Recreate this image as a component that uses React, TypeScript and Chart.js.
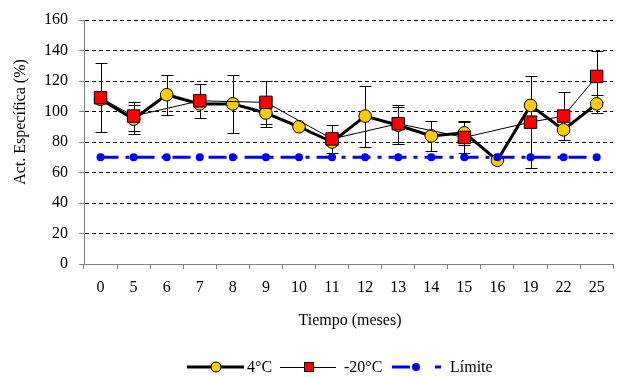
import React, { useEffect, useRef } from "react";
import { Chart, registerables } from "chart.js";

Chart.register(...registerables);

const labels = ["0", "5", "6", "7", "8", "9", "10", "11", "12", "13", "14", "15", "16", "19", "22", "25"];
const t4 = [108, 95, 111, 105, 105, 99, 90, 80, 97, 91, 84, 86, 68, 104, 88, 105];
const t4Err = [0, 9.5, 13, 0, 19, 9, 0, 0, 20, 12, 10, 8, 0, 0, 0, 6];
const t20 = [109, 97, null, 107, null, 106, null, 82, null, 92, null, 83, null, 93, 97, 123];
const t20Err = [22.5, 9.5, 0, 11, 0, 14, 0, 9, 0, 12, 0, 10, 0, 30, 16, 17];
const limite = [70, 70, 70, 70, 70, 70, 70, 70, 70, 70, 70, 70, 70, 70, 70, 70];

const yTicks = [0, 20, 40, 60, 80, 100, 120, 140, 160];
const seriesNames = ["4°C", "-20°C", "Límite"];
const yTitle = "Act. Específica (%)";
const xTitle = "Tiempo (meses)";

const FONT = "'Liberation Serif', 'Times New Roman', serif";
const YELLOW = "#FFCC00";
const RED = "#FF0000";
const BLUE = "#0000FF";

const errPlugin = {
  id: "errbars",
  beforeDatasetsDraw(chart: any) {
    const ctx = chart.ctx;
    const ys = chart.scales.y;
    const sets: [number, (number | null)[], number[]][] = [
      [0, t4, t4Err],
      [1, t20, t20Err],
    ];
    ctx.save();
    ctx.strokeStyle = "#000";
    ctx.lineWidth = 1;
    sets.forEach(([di, vals, errs]) => {
      const meta = chart.getDatasetMeta(di);
      meta.data.forEach((pt: any, i: number) => {
        const v = vals[i];
        const e = errs[i];
        if (v == null || !e) return;
        const x = Math.round(pt.x) + 0.5;
        const yTop = Math.round(ys.getPixelForValue(v + e)) + 0.5;
        const yBot = Math.round(ys.getPixelForValue(v - e)) + 0.5;
        ctx.beginPath();
        ctx.moveTo(x, yTop);
        ctx.lineTo(x, yBot);
        ctx.moveTo(x - 6, yTop);
        ctx.lineTo(x + 6, yTop);
        ctx.moveTo(x - 6, yBot);
        ctx.lineTo(x + 6, yBot);
        ctx.stroke();
      });
    });
    ctx.restore();
  },
};

const textPlugin = {
  id: "texts",
  afterDraw(chart: any) {
    const ctx = chart.ctx;
    ctx.save();
    ctx.fillStyle = "#000";
    ctx.font = `16px ${FONT}`;
    ctx.textBaseline = "middle";
    // y title
    ctx.save();
    ctx.translate(13, 114);
    ctx.rotate(-Math.PI / 2);
    ctx.textAlign = "center";
    ctx.fillText(yTitle, 0, 0);
    ctx.restore();
    // x title
    ctx.textAlign = "center";
    ctx.fillText(xTitle, 342, 313);

    // legend
    const ly = 359;
    ctx.textAlign = "left";
    // 4°C
    ctx.strokeStyle = "#000";
    ctx.lineWidth = 3;
    ctx.beginPath();
    ctx.moveTo(179, ly);
    ctx.lineTo(236, ly);
    ctx.stroke();
    ctx.beginPath();
    ctx.arc(208, ly, 5, 0, Math.PI * 2);
    ctx.fillStyle = YELLOW;
    ctx.fill();
    ctx.lineWidth = 1;
    ctx.stroke();
    ctx.fillStyle = "#000";
    ctx.fillText(seriesNames[0], 239, ly + 1);
    // -20°C
    ctx.lineWidth = 1;
    ctx.beginPath();
    ctx.moveTo(272, ly + 0.5);
    ctx.lineTo(328, ly + 0.5);
    ctx.stroke();
    ctx.fillStyle = RED;
    ctx.fillRect(296, ly - 4.5, 9, 9);
    ctx.strokeRect(296.5, ly - 4.5, 9, 9);
    ctx.fillStyle = "#000";
    ctx.fillText(seriesNames[1], 336, ly + 1);
    // Límite
    ctx.strokeStyle = BLUE;
    ctx.lineWidth = 3;
    ctx.beginPath();
    ctx.moveTo(384, ly);
    ctx.lineTo(402, ly);
    ctx.moveTo(427, ly);
    ctx.lineTo(433, ly);
    ctx.stroke();
    ctx.beginPath();
    ctx.arc(408, ly, 4, 0, Math.PI * 2);
    ctx.fillStyle = BLUE;
    ctx.fill();
    ctx.fillStyle = "#000";
    ctx.fillText(seriesNames[2], 442, ly + 1);
    ctx.restore();
  },
};

export default function App() {
  const ref = useRef<HTMLCanvasElement | null>(null);
  useEffect(() => {
    if (!ref.current) return;
    const chart = new Chart(ref.current, {
      type: "line",
      data: {
        labels,
        datasets: [
          {
            label: seriesNames[0],
            data: t4,
            borderColor: "#000",
            borderWidth: 3,
            pointStyle: "circle",
            pointRadius: 6.3,
            pointBackgroundColor: YELLOW,
            pointBorderColor: "#000",
            pointBorderWidth: 1,
            order: 3,
          },
          {
            label: seriesNames[1],
            data: t20,
            spanGaps: true,
            borderColor: "#000",
            borderWidth: 1,
            pointStyle: "rect",
            pointRadius: 8.8,
            pointBackgroundColor: RED,
            pointBorderColor: "#000",
            pointBorderWidth: 1,
            order: 2,
          },
          {
            label: seriesNames[2],
            data: limite,
            borderColor: BLUE,
            borderWidth: 3,
            borderDash: [18, 7, 4, 7],
            pointStyle: "circle",
            pointRadius: 4,
            pointBackgroundColor: BLUE,
            pointBorderColor: BLUE,
            pointBorderWidth: 0,
            order: 1,
          },
        ],
      },
      options: {
        animation: false,
        responsive: false,
        maintainAspectRatio: false,
        layout: { padding: { top: 12, left: 0, right: 0, bottom: 0 } },
        plugins: {
          legend: { display: false },
          tooltip: { enabled: false },
        },
        elements: { line: { tension: 0 } },
        scales: {
          x: {
            type: "category",
            offset: true,
            grid: {
              offset: true,
              drawOnChartArea: false,
              drawTicks: true,
              tickLength: 5,
              tickColor: "#808080",
              tickWidth: 1,
            },
            border: { color: "#808080", width: 1 },
            ticks: {
              color: "#000",
              font: { family: FONT, size: 16 },
              padding: 9,
              maxRotation: 0,
              autoSkip: false,
            },
            afterFit(scale: any) {
              scale.height = 113;
            },
          },
          y: {
            min: 0,
            max: 160,
            afterBuildTicks(scale: any) {
              scale.ticks = yTicks.map((v) => ({ value: v }));
            },
            grid: {
              color: "#000",
              lineWidth: 1,
              drawTicks: true,
              tickLength: 5,
              tickColor: "#808080",
              tickBorderDash: [],
            },
            border: { color: "#808080", width: 1, dash: [4, 3] },
            ticks: {
              color: "#000",
              font: { family: FONT, size: 16 },
              padding: 11,
            },
            afterFit(scale: any) {
              scale.width = 76;
              scale.paddingTop = 0;
            },
          },
        },
      },
      plugins: [errPlugin, textPlugin],
    });
    return () => chart.destroy();
  }, []);
  return (
    <div style={{ position: "fixed", left: 8, top: 8, width: 615, height: 369, overflow: "hidden" }}>
      <canvas ref={ref} width={615} height={369} style={{ width: 615, height: 369, display: "block" }} />
    </div>
  );
}
